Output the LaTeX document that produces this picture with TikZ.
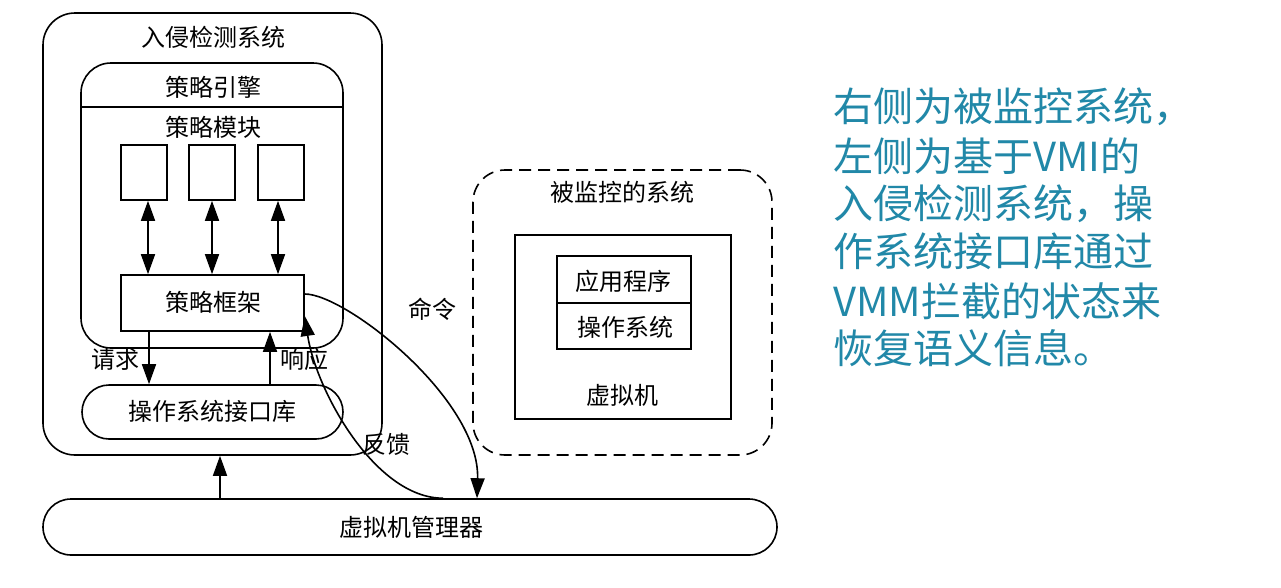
\documentclass[tikz,border=0pt]{standalone}
\usepackage{fontspec}
\setmainfont{Noto Sans CJK SC}
\usetikzlibrary{arrows.meta}
\definecolor{teal1}{RGB}{33,136,168}
\begin{document}
\begin{tikzpicture}[x=1pt,y=-1pt,
  ln/.style={line width=1.6pt},
  box/.style={ln,draw,inner sep=0pt},
  lbl/.style={inner sep=0pt,font=\fontsize{24}{28}\selectfont},
  rt/.style={inner sep=0pt,anchor=west,text=teal1,font=\fontsize{40}{48}\selectfont},
  arr/.style={ln,-{Triangle[length=20pt,width=14pt]}},
  darr/.style={ln,{Triangle[length=20pt,width=14pt]}-{Triangle[length=20pt,width=14pt]}}
]
\useasboundingbox (0,0) rectangle (1281,587);
\fill[white] (0,0) rectangle (1281,587);

% intrusion detection system
\node[box,rounded corners=32pt,minimum width=339pt,minimum height=442pt] (ids) at (212.5,234) {};
\node[lbl] (idsT) at (213,37) {入侵检测系统};

% policy engine
\node[box,rounded corners=30pt,minimum width=262pt,minimum height=285pt] (eng) at (212,205.5) {};
\coordinate (divy) at (0,107);
\draw[ln] (eng.west |- divy) -- (eng.east |- divy);
\node[lbl] (engT) at (213,87.5) {策略引擎};
\node[lbl] (modT) at (213,127) {策略模块};

% modules
\node[box,minimum width=46pt,minimum height=55pt] (m1) at (144,172.5) {};
\node[box,minimum width=46pt,minimum height=55pt] (m2) at (212,172.5) {};
\node[box,minimum width=46pt,minimum height=55pt] (m3) at (281,172.5) {};

% policy framework
\node[box,minimum width=183pt,minimum height=56pt] (frame) at (212.5,303) {};
\node[lbl] (frameT) at (213,302) {策略框架};

\draw[darr] ([xshift=4pt]m1.south) -- ([xshift=4pt]m1.south |- frame.north);
\draw[darr] (m2.south) -- (m2.south |- frame.north);
\draw[darr] ([xshift=-3pt]m3.south) -- ([xshift=-3pt]m3.south |- frame.north);

% OS interface library
\node[box,rounded corners=27pt,minimum width=261pt,minimum height=54pt] (lib) at (212.5,412) {};
\node[lbl] (libT) at (212,411) {操作系统接口库};

\coordinate (reqx) at (149,0);
\coordinate (resx) at (270,0);
\draw[arr] (frame.south -| reqx) -- (lib.north -| reqx);
\draw[arr] (lib.north -| resx) -- (frame.south -| resx);
\node[lbl] (reqT) at (115,359) {请求};
\node[lbl] (resT) at (304,359) {响应};

% VMM
\node[box,rounded corners=28pt,minimum width=734pt,minimum height=56pt] (vmm) at (410,527) {};
\node[lbl] (vmmT) at (411,527) {虚拟机管理器};
\coordinate (upx) at (220,0);
\draw[arr] (vmm.north -| upx) -- (ids.south -| upx);

% monitored system
\node[box,dash pattern=on 12pt off 7pt,rounded corners=32pt,minimum width=299pt,minimum height=285pt] (mon) at (622.5,312.5) {};
\node[lbl] (monT) at (622,192) {被监控的系统};
\node[box,minimum width=216pt,minimum height=184pt] (vm) at (623,327) {};
\node[lbl] (vmT) at (622,395) {虚拟机};
\node[box,minimum width=134pt,minimum height=47pt] (app) at (624,279.5) {};
\node[box,minimum width=134pt,minimum height=46pt] (os) at (624,326) {};
\node[lbl] (appT) at (623.5,281) {应用程序};
\node[lbl] (osT) at (625,327) {操作系统};

% command / feedback curves
\coordinate (cmdx) at (477,0);
\coordinate (fbx) at (443,0);
\draw[arr] ([yshift=9pt]frame.east) .. controls +(41,0) and +(3,-99) .. (vmm.north -| cmdx);
\draw[arr] (vmm.north -| fbx) .. controls +(-68,0) and +(11,74) .. ([yshift=-13pt]frame.east);
\node[lbl] (cmdT) at (432,309) {命令};
\node[lbl] (fbT) at (386,444) {反馈};

% right text
\node[rt] (t1) at (833,106.5) {右侧为被监控系统，};
\node[rt] (t2) at (833,156) {左侧为基于VMI的};
\node[rt] (t3) at (833,204) {入侵检测系统，操};
\node[rt] (t4) at (833,251.5) {作系统接口库通过};
\node[rt] (t5) at (833,301) {VMM拦截的状态来};
\node[rt] (t6) at (833,348.5) {恢复语义信息。};
\end{tikzpicture}
\end{document}
